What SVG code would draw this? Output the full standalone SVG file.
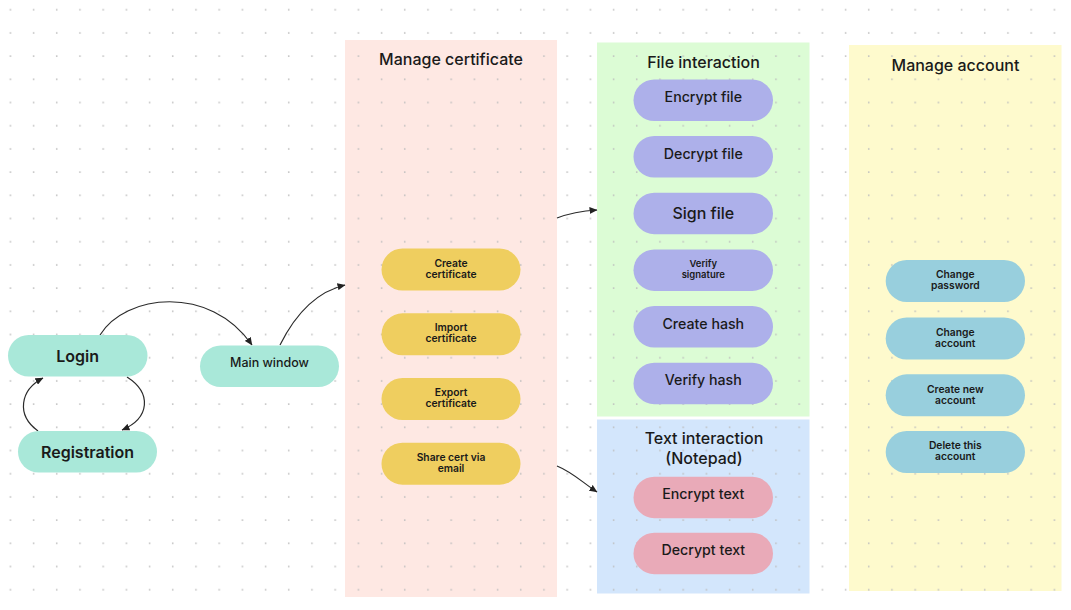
<svg xmlns="http://www.w3.org/2000/svg" width="1071" height="610" viewBox="0 0 1071 610">
  <defs>
    <pattern id="dots" x="0" y="0" width="23.2" height="23.2" patternUnits="userSpaceOnUse">
      <rect x="9.6" y="9" width="1.5" height="1.5" fill="#bdbdbd"/>
    </pattern>
    <marker id="arrow" viewBox="0 0 8 7" refX="7.5" refY="3.5" markerWidth="8" markerHeight="7" markerUnits="userSpaceOnUse" orient="auto">
      <path d="M0,0 L8,3.5 L0,7 Z" fill="#222"/>
    </marker>
    <style>
      text { font-family: "Inter", "Liberation Sans", sans-serif; fill: #1a1a1a; text-anchor: middle; }
      .title { font-size: 16px; font-weight: 500; }
      .big { font-size: 16px; font-weight: 600; }
      .mid { font-size: 14.2px; font-weight: 500; }
      .small { font-size: 10.3px; font-weight: 600; }
      .mint { fill: #a9e8d9; }
      .gold { fill: #efce5f; }
      .lav { fill: #adb0ea; }
      .rose { fill: #e9aab8; }
      .teal { fill: #98cfdd; }
      .link { fill: none; stroke: #2a2a2a; stroke-width: 1.2; marker-end: url(#arrow); }
    </style>
  </defs>

  <rect width="1071" height="610" fill="#ffffff"/>

  <!-- panels -->
  <g id="panel-certificate">
    <rect x="345" y="40" width="212" height="557" fill="#fee8e3"/>
  </g>
  <g id="panel-file">
    <rect x="597" y="42.5" width="212.5" height="374" fill="#dcfcd5"/>
  </g>
  <g id="panel-text">
    <rect x="597" y="419.5" width="212.5" height="174" fill="#d3e6fc"/>
  </g>
  <g id="panel-account">
    <rect x="849" y="45" width="212.5" height="546" fill="#fefacd"/>
  </g>

  <!-- dotted canvas grid -->
  <rect width="1071" height="610" fill="url(#dots)"/>

  <!-- panel titles -->
  <text class="title" x="451" y="65">Manage certificate</text>
  <text class="title" x="703.5" y="67.5">File interaction</text>
  <text class="title" x="955.5" y="70.5">Manage account</text>
  <text class="title" x="704" y="444">Text interaction</text>
  <text class="title" x="704" y="463.5">(Notepad)</text>

  <!-- connectors -->
  <g id="connectors">
    <path class="link" d="M100,335 C125,294 210,284 252,345"/>
    <path class="link" d="M280,345 C295,315 315,292 345,285"/>
    <path class="link" d="M127,377 C152,393 150,418 122,430"/>
    <path class="link" d="M38,431 C16,415 20,390 43,378"/>
    <path class="link" d="M557,218 C570,213 582,211 597,210"/>
    <path class="link" d="M557,466 C572,472 582,482 597,492"/>
  </g>

  <!-- entry flow -->
  <g id="login">
    <rect class="mint" x="8" y="335" width="139.5" height="41.5" rx="20.75"/>
    <text class="big" x="77.7" y="361.5">Login</text>
  </g>
  <g id="registration">
    <rect class="mint" x="18" y="431" width="139" height="41.5" rx="20.75"/>
    <text class="big" x="87.5" y="458">Registration</text>
  </g>
  <g id="main-window">
    <rect class="mint" x="200" y="345.5" width="139" height="41.5" rx="20.75"/>
    <text class="mid" x="269.5" y="366.5" style="font-size:12.5px">Main window</text>
  </g>

  <!-- certificate actions -->
  <g id="create-certificate">
    <rect class="gold" x="381.5" y="248.5" width="139" height="42" rx="21"/>
    <text class="small" x="451" y="266.5">Create</text>
    <text class="small" x="451" y="277.5">certificate</text>
  </g>
  <g id="import-certificate">
    <rect class="gold" x="381.5" y="313.3" width="139" height="42" rx="21"/>
    <text class="small" x="451" y="331.3">Import</text>
    <text class="small" x="451" y="342.3">certificate</text>
  </g>
  <g id="export-certificate">
    <rect class="gold" x="381.5" y="378" width="139" height="42" rx="21"/>
    <text class="small" x="451" y="396">Export</text>
    <text class="small" x="451" y="407">certificate</text>
  </g>
  <g id="share-certificate">
    <rect class="gold" x="381.5" y="442.7" width="139" height="42" rx="21"/>
    <text class="small" x="451" y="460.7">Share cert via</text>
    <text class="small" x="451" y="471.7">email</text>
  </g>

  <!-- file actions -->
  <g id="encrypt-file">
    <rect class="lav" x="633.5" y="79.5" width="139.5" height="41.5" rx="20.75"/>
    <text class="mid" x="703.3" y="102">Encrypt file</text>
  </g>
  <g id="decrypt-file">
    <rect class="lav" x="633.5" y="136" width="139.5" height="41.5" rx="20.75"/>
    <text class="mid" x="703.3" y="158.7">Decrypt file</text>
  </g>
  <g id="sign-file">
    <rect class="lav" x="633.5" y="192.7" width="139.5" height="41.5" rx="20.75"/>
    <text class="title" x="703.3" y="219">Sign file</text>
  </g>
  <g id="verify-signature">
    <rect class="lav" x="633.5" y="249.4" width="139.5" height="41.5" rx="20.75"/>
    <text class="small" x="703.3" y="267.2" style="font-size:9.5px">Verify</text>
    <text class="small" x="703.3" y="278" style="font-size:9.5px">signature</text>
  </g>
  <g id="create-hash">
    <rect class="lav" x="633.5" y="306" width="139.5" height="41.5" rx="20.75"/>
    <text class="mid" x="703.3" y="328.7">Create hash</text>
  </g>
  <g id="verify-hash">
    <rect class="lav" x="633.5" y="362.7" width="139.5" height="41.5" rx="20.75"/>
    <text class="mid" x="703.3" y="385.4">Verify hash</text>
  </g>

  <!-- text actions -->
  <g id="encrypt-text">
    <rect class="rose" x="633.5" y="476.7" width="139.5" height="41.5" rx="20.75"/>
    <text class="mid" x="703.3" y="499.2">Encrypt text</text>
  </g>
  <g id="decrypt-text">
    <rect class="rose" x="633.5" y="532.7" width="139.5" height="41.5" rx="20.75"/>
    <text class="mid" x="703.3" y="555.2">Decrypt text</text>
  </g>

  <!-- account actions -->
  <g id="change-password">
    <rect class="teal" x="885.7" y="260" width="139.3" height="42" rx="21"/>
    <text class="small" x="955.3" y="278.3">Change</text>
    <text class="small" x="955.3" y="289.3">password</text>
  </g>
  <g id="change-account">
    <rect class="teal" x="885.7" y="317.5" width="139.3" height="42" rx="21"/>
    <text class="small" x="955.3" y="336">Change</text>
    <text class="small" x="955.3" y="347">account</text>
  </g>
  <g id="create-account">
    <rect class="teal" x="885.7" y="374.3" width="139.3" height="42" rx="21"/>
    <text class="small" x="955.3" y="392.7">Create new</text>
    <text class="small" x="955.3" y="403.7">account</text>
  </g>
  <g id="delete-account">
    <rect class="teal" x="885.7" y="431" width="139.3" height="42" rx="21"/>
    <text class="small" x="955.3" y="449.3">Delete this</text>
    <text class="small" x="955.3" y="460.3">account</text>
  </g>
</svg>
